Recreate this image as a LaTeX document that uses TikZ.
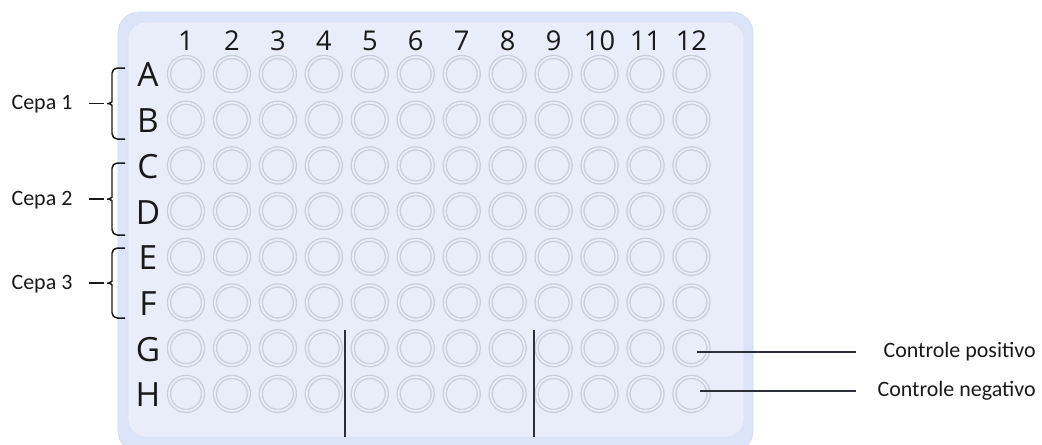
\documentclass[tikz,border=0pt]{standalone}
\usepackage{fontspec}
\setmainfont{Carlito}
\newfontfamily\platefont{Open Sans}
\usetikzlibrary{positioning,calc}
\definecolor{plateouter}{RGB}{220,228,247}
\definecolor{plateedge}{RGB}{208,220,245}
\definecolor{platefill}{RGB}{233,237,250}
\definecolor{wellgray}{RGB}{202,206,219}
\definecolor{linegray}{RGB}{45,47,56}

\begin{document}
\begin{tikzpicture}[
        x=0.02cm, y=-0.02cm,
        well/.style={circle, draw=wellgray, double=platefill, double distance=1.0pt, line width=0.75pt, minimum size=0.68cm, inner sep=0pt},
        collabel/.style={font=\platefont\fontsize{15.5}{17}\selectfont, text=black!90, inner sep=0pt},
        rowlabel/.style={font=\platefont\fontsize{19}{21}\selectfont, text=black!90, inner sep=0pt},
        grouplabel/.style={font=\fontsize{12.5}{14}\selectfont, text=black!90, inner sep=0pt},
        ctrllabel/.style={font=\fontsize{12.5}{14}\selectfont, text=black!90, inner sep=0pt, anchor=east},
        bracket/.style={draw=black!90, line width=0.85pt, rounded corners=3},
        pointer/.style={draw=linegray, line width=0.9pt}
    ]
    \useasboundingbox (0,0) rectangle (1042,444);

    % plate
    \draw[plateedge, fill=plateouter, rounded corners=12] (118,12) rectangle (753,452);
    \draw[plateedge!70!platefill, fill=platefill, rounded corners=10] (128,22) rectangle (744,437);

    % wells, rows and columns
    \foreach \r [count=\i] in {A,...,H} {
        \node[rowlabel] (row\r) at (148, {75+45.7*(\i-1)}) {\r};
        \foreach \c in {1,...,12}
            \node[well] (w\r\c) at ({186+45.95*(\c-1)}, {74+45.7*(\i-1)}) {};
    }
    \foreach \c in {1,...,12}
        \node[collabel] (col\c) at ({186+45.95*(\c-1)}, 41) {\c};

    % strains
    \foreach \ya/\yb/\n in {68/139/1, 163/235/2, 248/318/3} {
        \pgfmathsetmacro\ymid{(\ya+\yb)/2}
        \draw[bracket] (125,\ya) -- (112,\ya) -- (112,\ymid-7)
            .. controls (112,\ymid-1) and (108,\ymid) .. (104,\ymid)
            .. controls (108,\ymid) and (112,\ymid+1) .. (112,\ymid+7)
            -- (112,\yb) -- (125,\yb);
        \coordinate (tip\n) at (104,\ymid);
        \node[grouplabel] (cepa\n) at (42,\ymid+1) {Cepa \n};
        \draw[bracket, shorten <=0.32cm] (cepa\n.east |- tip\n) -- (tip\n);
    }

    % dividers
    \foreach \x/\n in {345/1, 534/2} {
        \coordinate (div\n top) at (\x,330);
        \coordinate (div\n bot) at (\x,437);
        \draw[pointer] (div\n top) -- (div\n bot);
    }

    % controls
    \node[ctrllabel] (ctrlpos) at (1036,352) {Controle positivo};
    \node[ctrllabel] (ctrlneg) at (1036,391) {Controle negativo};
    \coordinate (posstart) at (697,352);
    \coordinate (negstart) at (700,391);
    \draw[pointer, shorten >=0.54cm] (posstart) -- (posstart -| ctrlpos.west);
    \draw[pointer, shorten >=0.42cm] (negstart) -- (negstart -| ctrlneg.west);
\end{tikzpicture}
\end{document}
